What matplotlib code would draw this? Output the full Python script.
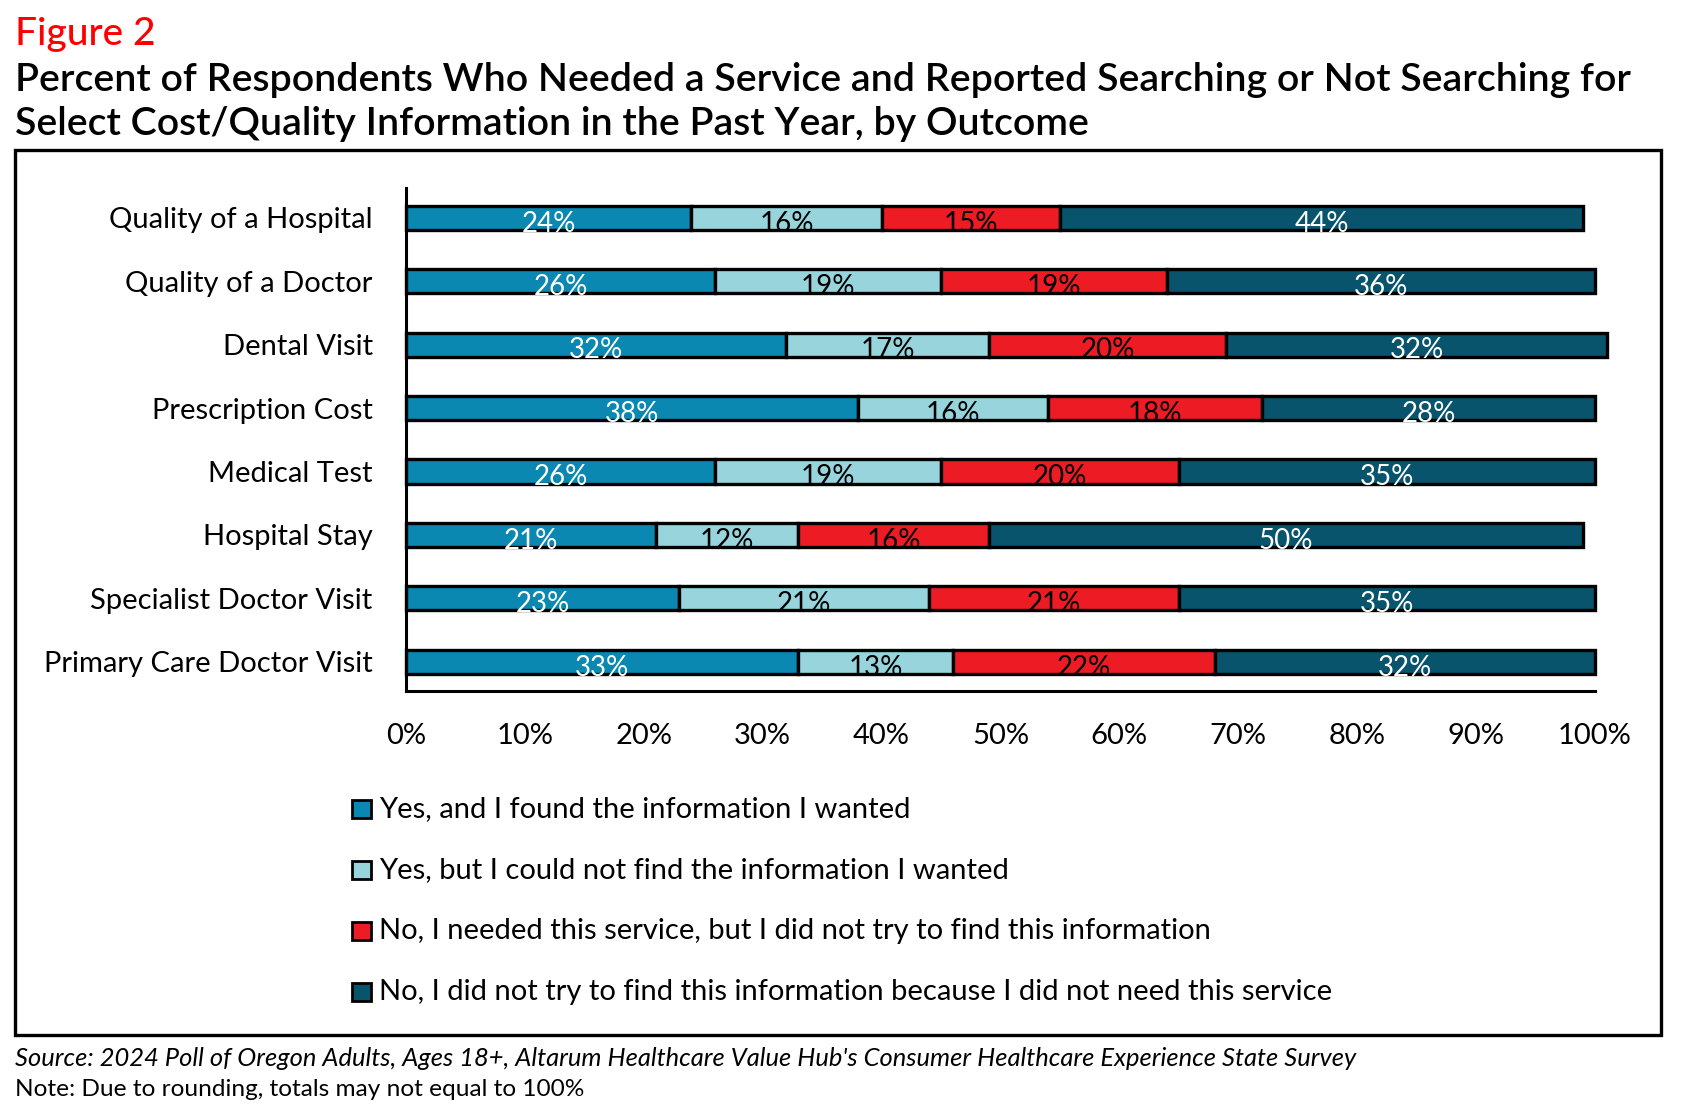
import matplotlib
matplotlib.use("Agg")
import matplotlib.pyplot as plt
from matplotlib.patches import Rectangle

categories = ["Quality of a Hospital", "Quality of a Doctor", "Dental Visit",
              "Prescription Cost", "Medical Test", "Hospital Stay",
              "Specialist Doctor Visit", "Primary Care Doctor Visit"]
series_names = ["Yes, and I found the information I wanted",
                "Yes, but I could not find the information I wanted",
                "No, I needed this service, but I did not try to find this information",
                "No, I did not try to find this information because I did not need this service"]
found = [24, 26, 32, 38, 26, 21, 23, 33]
not_found = [16, 19, 17, 16, 19, 12, 21, 13]
not_tried = [15, 19, 20, 18, 20, 16, 21, 22]
not_needed = [44, 36, 32, 28, 35, 50, 35, 32]
xticks = [0, 10, 20, 30, 40, 50, 60, 70, 80, 90, 100]
xtick_labels = [f"{t}%" for t in xticks]

colors = ["#0A88B1", "#97D4DC", "#ED1C24", "#08546C"]
label_colors = ["white", "black", "black", "white"]

FONT = ["Lato", "DejaVu Sans"]
plt.rcParams['font.family'] = FONT

W, H = 1683, 1108
fig = plt.figure(figsize=(W / 100, H / 100), dpi=100)

def fx(px):
    return px / W

def fy(py):
    return 1 - py / H

# Titles
fig.text(fx(15), fy(17), "Figure 2", color="#FF0000", fontsize=28, va="top", ha="left",
         fontweight="medium")
fig.text(fx(15), fy(62), "Percent of Respondents Who Needed a Service and Reported Searching or Not Searching for",
         fontsize=28.3, va="top", ha="left", color="black", fontweight="semibold")
fig.text(fx(15), fy(106), "Select Cost/Quality Information in the Past Year, by Outcome",
         fontsize=28.3, va="top", ha="left", color="black", fontweight="semibold")

# Frame
fig.add_artist(Rectangle((fx(15), fy(1035)), fx(1661) - fx(15), fy(150) - fy(1035),
                         transform=fig.transFigure, fill=False, edgecolor="black", linewidth=2.4))

ax = fig.add_axes([fx(406), fy(691), fx(1595) - fx(406), fy(188) - fy(691)])

series = [found, not_found, not_tried, not_needed]
n = len(categories)
ypos = [n - 1 - i for i in range(n)]
left = [0] * n
for s, vals in enumerate(series):
    ax.barh(ypos, vals, left=left, height=0.38, color=colors[s], edgecolor="black",
            linewidth=2.4, clip_on=False, zorder=2)
    for i in range(n):
        cx = left[i] + vals[i] / 2
        ax.text(cx, ypos[i] - 0.09, f"{vals[i]}%", ha="center", va="center",
                color=label_colors[s], fontsize=20, zorder=3)
    left = [left[i] + vals[i] for i in range(n)]

ax.set_xlim(0, 100)
ax.set_ylim(-0.46, n - 1 + 0.47)
ax.set_yticks(ypos)
ax.set_yticklabels(categories, fontsize=21)
ax.set_xticks(xticks)
ax.set_xticklabels(xtick_labels, fontsize=21)
ax.tick_params(axis="both", length=0)
ax.tick_params(axis="y", pad=24)
ax.tick_params(axis="x", pad=23)
for sp in ["top", "right"]:
    ax.spines[sp].set_visible(False)
ax.spines["left"].set_linewidth(2.2)
ax.spines["bottom"].set_linewidth(2.2)

# Legend (manual)
rows = [809, 870, 931, 992]
for s, name in enumerate(series_names):
    yc = rows[s]
    fig.add_artist(Rectangle((fx(352), fy(yc + 9)), fx(19), fy(yc - 9) - fy(yc + 9),
                             transform=fig.transFigure, facecolor=colors[s],
                             edgecolor="black", linewidth=2.0))
    fig.text(fx(379), fy(yc), name, fontsize=21, va="center", ha="left")

fig.text(fx(15), fy(1059), "Source: 2024 Poll of Oregon Adults, Ages 18+, Altarum Healthcare Value Hub's Consumer Healthcare Experience State Survey",
         fontsize=18.4, style="italic", va="center", ha="left")
fig.text(fx(15), fy(1090), "Note: Due to rounding, totals may not equal to 100%",
         fontsize=17.6, va="center", ha="left")

fig.savefig("out.png", dpi=100)
